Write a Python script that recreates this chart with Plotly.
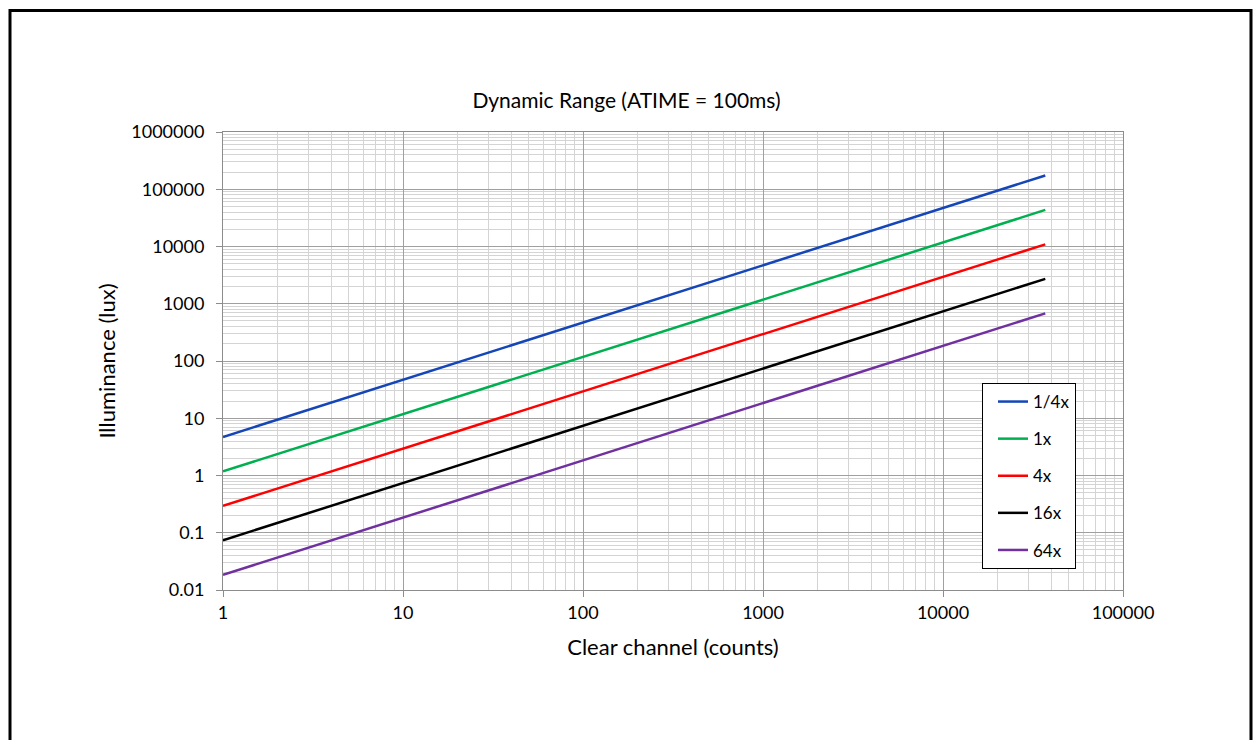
import plotly.graph_objects as go

# ---- data ----
clear_counts = [1, 10, 100, 1000, 10000, 37000]
series_names = ["1/4x", "1x", "4x", "16x", "64x"]
lux_quarter = [4.7, 47, 470, 4700, 47000, 174000]
lux_1x = [1.18, 11.8, 118, 1180, 11800, 43600]
lux_4x = [0.295, 2.95, 29.5, 295, 2950, 10900]
lux_16x = [0.074, 0.74, 7.4, 74, 740, 2720]
lux_64x = [0.0184, 0.184, 1.84, 18.4, 184, 680]
series_colors = ["#1446b8", "#00b050", "#ff0000", "#000000", "#7030a0"]

x_tickvals = [1, 10, 100, 1000, 10000, 100000]
x_ticktext = ["1", "10", "100", "1000", "10000", "100000"]
y_tickvals = [0.01, 0.1, 1, 10, 100, 1000, 10000, 100000, 1000000]
y_ticktext = ["0.01", "0.1", "1", "10", "100", "1000", "10000", "100000", "1000000"]

FONT = "Lato, Carlito, Calibri, sans-serif"

fig = go.Figure()
for i, (name, ys, col) in enumerate(zip(series_names,
                                        [lux_quarter, lux_1x, lux_4x, lux_16x, lux_64x],
                                        series_colors)):
    fig.add_trace(go.Scatter(
        x=clear_counts, y=ys, mode="lines", name=name,
        line=dict(color=col, width=2.5),
        legendgroup=f"g{i}",
    ))

W, H = 1253, 740
L, R, T, B = 223, 130, 132, 150
pw, ph = W - L - R, H - T - B

def px_x(p):
    return (p - L) / pw

def px_y(p):
    return (H - B - p) / ph

axis_common = dict(
    type="log",
    showline=True, linecolor="#8c8c8c", linewidth=1, mirror=True,
    showgrid=True, gridcolor="#a0a0a0", gridwidth=1,
    ticks="outside", ticklen=6, tickcolor="#8c8c8c",
    tickfont=dict(family=FONT, size=18, color="#000000"),
    zeroline=False,
    minor=dict(showgrid=True, gridcolor="#d4d4d4", gridwidth=1, dtick="D1", ticks=""),
)

fig.update_layout(
    width=W, height=H,
    margin=dict(l=L, r=R, t=T, b=B),
    paper_bgcolor="white", plot_bgcolor="white",
    font=dict(family=FONT, color="#000000"),
    title=dict(text="Dynamic Range (ATIME = 100ms)", x=0.5, xref="container",
               xanchor="center", y=1 - 101 / H, yanchor="middle",
               font=dict(family=FONT, size=21, color="#000000")),
    xaxis=dict(axis_common, range=[0, 5], tickvals=x_tickvals, ticktext=x_ticktext,
               title=dict(text="Clear channel (counts)", font=dict(family=FONT, size=22),
                          standoff=18)),
    yaxis=dict(axis_common, range=[-2, 6], tickvals=y_tickvals, ticktext=y_ticktext,
               ticklabelstandoff=8,
               title=dict(text="Illuminance (lux)", font=dict(family=FONT, size=22),
                          standoff=9)),
    legend=dict(x=px_x(982), y=px_y(383), xanchor="left", yanchor="top",
                bgcolor="white", bordercolor="#000000", borderwidth=1,
                font=dict(family=FONT, size=17, color="#000000"),
                tracegroupgap=12, itemwidth=30, indentation=10,
                entrywidth=45, entrywidthmode="pixels"),
    showlegend=True,
    shapes=[dict(type="rect", xref="paper", yref="paper",
                 x0=px_x(10), x1=px_x(1251), y0=px_y(760), y1=px_y(10.5),
                 line=dict(color="#000000", width=3), fillcolor="rgba(0,0,0,0)",
                 layer="above")],
)

fig.write_html("out.html")
